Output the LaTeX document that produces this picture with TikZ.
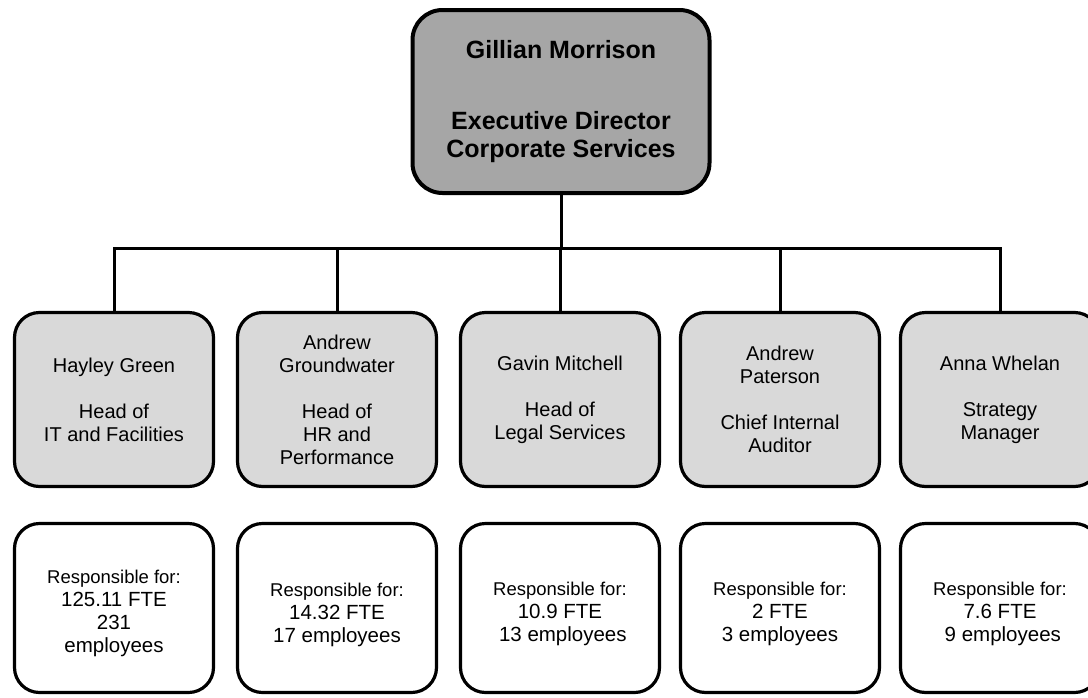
\documentclass[tikz,border=0pt]{standalone}
\usepackage{fontspec}
\setmainfont{Liberation Sans}
\definecolor{topgray}{HTML}{A6A6A6}
\definecolor{midgray}{HTML}{D9D9D9}
\begin{document}
\begin{tikzpicture}[x=1pt,y=-1pt,
  topbox/.style={draw=black, line width=4pt, fill=topgray, rounded corners=30pt,
    minimum width=297pt, minimum height=183pt, align=center, inner sep=0pt,
    font=\fontsize{25}{27.5}\selectfont\bfseries},
  headbox/.style={draw=black, line width=3.2pt, fill=midgray, rounded corners=25pt,
    minimum width=199pt, minimum height=174pt, align=center, inner sep=0pt,
    font=\fontsize{20}{23}\selectfont},
  countbox/.style={draw=black, line width=3.2pt, fill=white, rounded corners=25pt,
    minimum width=199pt, minimum height=169pt, inner sep=0pt},
  counttext/.style={align=center, inner sep=0pt, font=\fontsize{20.5}{23}\selectfont},
  link/.style={draw=black, line width=3pt}
]
\newcommand{\resp}{{\fontsize{18.5}{23}\selectfont Responsible for:}}
\useasboundingbox (0,0) rectangle (1088,697);

\node[topbox] (top) at (561,101.5) {Gillian Morrison\\[44pt]Executive Director\\Corporate Services};

\node[headbox] (h1) at (114,399.5) {Hayley Green\\[23pt]Head of\\IT and Facilities};
\node[headbox] (h2) at (337,399.5) {Andrew\\Groundwater\\[23pt]Head of\\HR and\\Performance};
\node[headbox] (h3) at (560,399.5) {Gavin Mitchell\\[23pt]Head of\\Legal Services};
\node[headbox] (h4) at (780,399.5) {Andrew\\Paterson\\[23pt]Chief Internal\\Auditor};
\node[headbox] (h5) at (1000,399.5) {Anna Whelan\\[23pt]Strategy\\Manager};

\node[countbox] (c1) at (114,608) {};
\node[countbox] (c2) at (337,608) {};
\node[countbox] (c3) at (560,608) {};
\node[countbox] (c4) at (780,608) {};
\node[countbox] (c5) at (1000,608) {};

\node[counttext] (t1) at ([yshift=-5pt]c1.center) {\resp\\125.11 FTE\\231\\employees};
\node[counttext] (t2) at ([yshift=-7pt]c2.center) {\resp\\14.32 FTE\\17 employees};
\node[counttext] (t3) at ([yshift=-6pt]c3.center) {\resp\\10.9 FTE\\\ 13 employees};
\node[counttext] (t4) at ([yshift=-6pt]c4.center) {\resp\\2 FTE\\3 employees};
\node[counttext] (t5) at ([yshift=-6pt]c5.center) {\resp\\7.6 FTE\\\ 9 employees};

\coordinate (bus) at (560,248);
\draw[link] (top.south) -- (top.south |- bus);
\draw[link] (h1.north) |- (h5.north |- bus) -- (h5.north);
\draw[link] (h2.north) -- (h2.north |- bus);
\draw[link] (h3.north) -- (h3.north |- bus);
\draw[link] (h4.north) -- (h4.north |- bus);
\end{tikzpicture}
\end{document}
